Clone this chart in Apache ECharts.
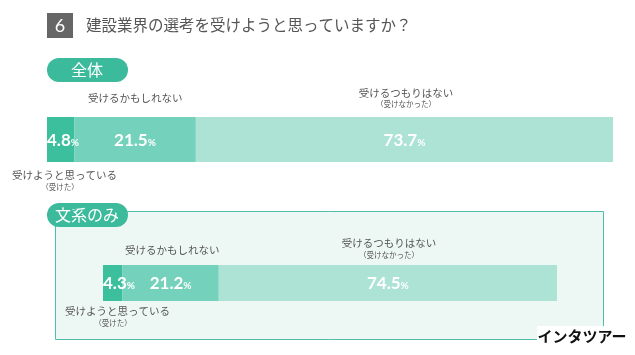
<!DOCTYPE html>
<html><head><meta charset="utf-8">
<script src="https://cdn.jsdelivr.net/npm/echarts@6/dist/echarts.min.js"></script>
<style>html,body{margin:0;padding:0;background:#fff}#c{width:635px;height:355px}</style>
</head><body><div id="c"></div>
<script>
const categories = ['全体', '文系のみ'];
const answerNames = ['受けようと思っている', '受けるかもしれない', '受けるつもりはない'];
const willTake = [4.8, 4.3];
const mayTake = [21.5, 21.2];
const wontTake = [73.7, 74.5];

const colors = ['#3cbf9d', '#74d1bc', '#ade3d5'];
const JP = '"Noto Sans CJK JP", sans-serif';
const NUM = 'Lato, "Noto Sans", sans-serif';
const gray = '#555555';

const chart = echarts.init(document.getElementById('c'), null, {renderer: 'canvas'});

const grids = [
  {left: 47, top: 117, width: 566, height: 45},
  {left: 103, top: 265, width: 454, height: 36}
];
const valueSets = [willTake, mayTake, wontTake];
const series = [];
categories.forEach((cat, gi) => {
  valueSets.forEach((vals, si) => {
    series.push({
      type: 'bar',
      name: answerNames[si],
      xAxisIndex: gi, yAxisIndex: gi,
      stack: 's' + gi,
      barWidth: '100%',
      itemStyle: {color: colors[si]},
      label: {
        show: true,
        position: si === 0 ? 'insideLeft' : 'inside',
        distance: 0,
        offset: [0, 1],
        formatter: p => '{v|' + p.value.toFixed(1) + '}{p|%}',
        rich: {
          v: {color: '#fff', fontFamily: NUM, fontWeight: 'bold', fontSize: 17},
          p: {color: '#fff', fontFamily: NUM, fontWeight: 'bold', fontSize: 10, padding: [4, 0, 0, 0]}
        }
      },
      data: [vals[gi]]
    });
  });
});

function t(x, y, text, size, align, extra) {
  return Object.assign({type: 'text', x: x, y: y, z: 10,
    style: {text: text, fill: gray, font: size + 'px ' + JP, textAlign: align || 'left', textVerticalAlign: 'middle'}}, extra || {});
}

const graphic = [
  {type: 'rect', shape: {x: 55.5, y: 211.5, width: 548, height: 128}, style: {fill: '#edf8f5', stroke: '#52bcac', lineWidth: 1}, z: -1},
  {type: 'rect', shape: {x: 47, y: 13, width: 26, height: 25}, style: {fill: '#666666'}},
  {type: 'text', x: 60, y: 26, style: {text: '6', fill: '#fff', font: '18px ' + NUM, textAlign: 'center', textVerticalAlign: 'middle'}},
  {type: 'text', x: 86, y: 25, style: {text: '建設業界の選考を受けようと思っていますか？', fill: gray, font: '15.5px ' + JP, textVerticalAlign: 'middle'}},
  {type: 'rect', shape: {x: 47, y: 58, width: 81, height: 24, r: 12}, style: {fill: '#3cba9c'}},
  {type: 'text', x: 87, y: 70, style: {text: categories[0], fill: '#fff', font: '16px ' + JP, textAlign: 'center', textVerticalAlign: 'middle'}},
  {type: 'rect', shape: {x: 47, y: 203, width: 81, height: 24, r: 12}, style: {fill: '#3cba9c'}, z: 5},
  {type: 'text', x: 87, y: 215, z: 6, style: {text: categories[1], fill: '#fff', font: '16px ' + JP, textAlign: 'center', textVerticalAlign: 'middle'}},
  t(88, 98, answerNames[1], 10.5),
  t(406, 93, answerNames[2], 10.5, 'center'),
  t(406, 104.5, '（受けなかった）', 7.5, 'center'),
  t(12, 175, answerNames[0], 10.5),
  t(60, 187, '（受けた）', 7.5, 'center'),
  t(125, 250, answerNames[1], 10.5),
  t(389, 243, answerNames[2], 10.5, 'center'),
  t(389, 255, '（受けなかった）', 7.5, 'center'),
  t(65, 311, answerNames[0], 10.5),
  t(113, 323, '（受けた）', 7.5, 'center'),
  {type: 'rect', shape: {x: 537, y: 326, width: 92, height: 20}, style: {fill: '#fff'}, z: 20},
  {type: 'text', x: 582, y: 336, z: 21, style: {text: 'インタツアー', fill: '#111', font: 'bold 15px ' + JP, textAlign: 'center', textVerticalAlign: 'middle'}}
];

chart.setOption({
  animation: false,
  grid: grids,
  xAxis: grids.map((g, i) => ({type: 'value', gridIndex: i, min: 0, max: 100, show: false})),
  yAxis: grids.map((g, i) => ({type: 'category', gridIndex: i, data: [categories[i]], show: false})),
  series: series,
  graphic: graphic
});
</script></body></html>
